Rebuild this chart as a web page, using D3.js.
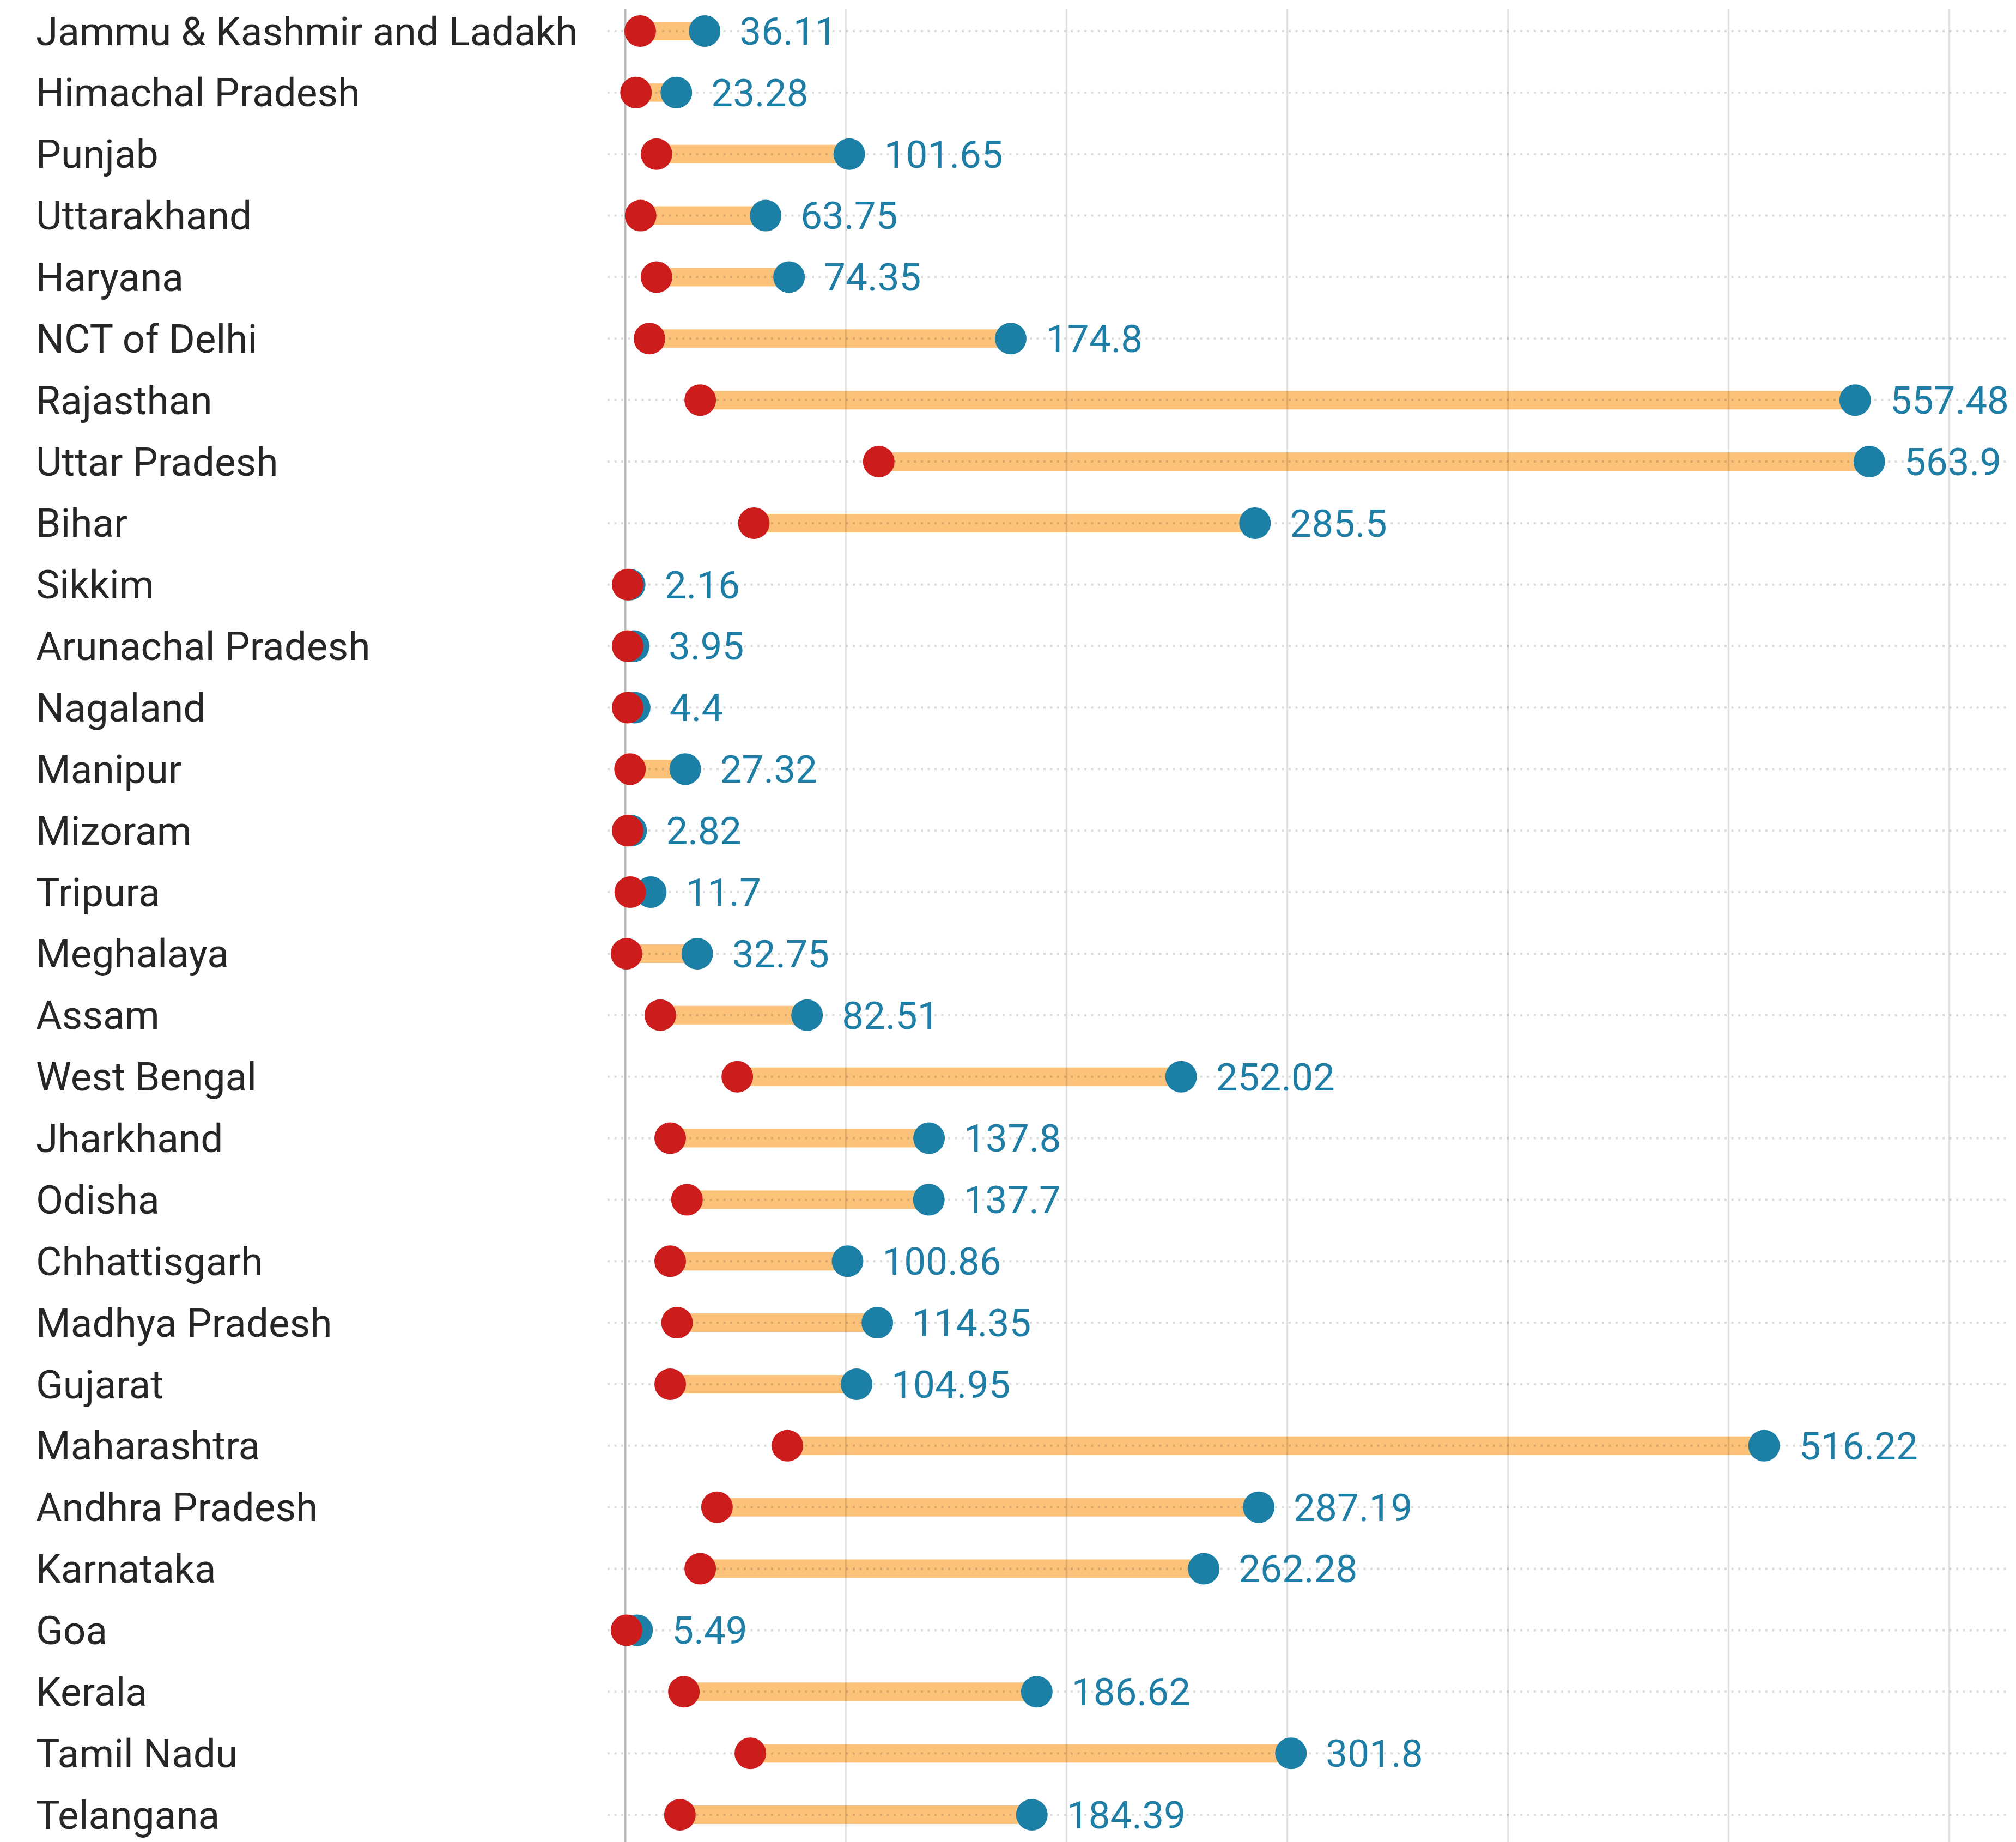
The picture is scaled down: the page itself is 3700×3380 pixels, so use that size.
<!DOCTYPE html>
<html>
<head lang="en">
    <meta charset="UTF-8">
    <title>States dumbbell</title>
    <script src="https://cdnjs.cloudflare.com/ajax/libs/d3/7.8.5/d3.min.js"></script>
    <style>
        body { margin: 0; background: #fff; }
        #chart text { font-family: Roboto, "Noto Sans", sans-serif; }
    </style>
</head>
<body>
<div id="chart"></div>
<script>
    // states, top to bottom
    var states = ["Jammu & Kashmir and Ladakh", "Himachal Pradesh", "Punjab", "Uttarakhand", "Haryana",
        "NCT of Delhi", "Rajasthan", "Uttar Pradesh", "Bihar", "Sikkim", "Arunachal Pradesh", "Nagaland",
        "Manipur", "Mizoram", "Tripura", "Meghalaya", "Assam", "West Bengal", "Jharkhand", "Odisha",
        "Chhattisgarh", "Madhya Pradesh", "Gujarat", "Maharashtra", "Andhra Pradesh", "Karnataka", "Goa",
        "Kerala", "Tamil Nadu", "Telangana"];

    // red dot (start) - no label in the picture, read off the scale
    var startVals = [6.9, 5.0, 14.3, 7.1, 14.3, 11.1, 34.1, 115.0, 58.4, 1.2, 1.2, 1.2, 2.3, 1.2, 2.4, 0.7,
        16.0, 50.9, 20.5, 28.1, 20.5, 23.6, 20.5, 73.6, 41.7, 34.1, 0.7, 26.7, 56.8, 24.9];

    // blue dot (end) - labelled values
    var endVals = [36.11, 23.28, 101.65, 63.75, 74.35, 174.8, 557.48, 563.9, 285.5, 2.16, 3.95, 4.4, 27.32,
        2.82, 11.7, 32.75, 82.51, 252.02, 137.8, 137.7, 100.86, 114.35, 104.95, 516.22, 287.19, 262.28,
        5.49, 186.62, 301.8, 184.39];

    var gridTicks = [0, 100, 200, 300, 400, 500, 600];

    var W = 3700, H = 3380;
    var svg = d3.select("#chart").append("svg").attr("width", W).attr("height", H);

    var x = d3.scaleLinear().domain([0, 600]).range([1147, 3577]);
    var y = d3.scalePoint().domain(states).range([57, 3330]);

    var rows = states.map(function (s, i) {
        return {name: s, a: startVals[i], b: endVals[i]};
    });

    // connecting bars
    svg.append("g").selectAll("line").data(rows).enter().append("line")
        .attr("x1", function (d) { return x(d.a); })
        .attr("x2", function (d) { return x(d.b); })
        .attr("y1", function (d) { return y(d.name); })
        .attr("y2", function (d) { return y(d.name); })
        .attr("stroke", "#fcc27a")
        .attr("stroke-width", 34);

    // vertical grid
    var grid = svg.append("g").attr("transform", "translate(0," + H + ")")
        .call(d3.axisTop(x).tickValues(gridTicks).tickSize(H - 16).tickFormat(""));
    grid.select(".domain").remove();
    grid.selectAll(".tick line")
        .attr("stroke", function (d) { return d === 0 ? "rgba(0,0,0,0.27)" : "rgba(0,0,0,0.11)"; })
        .attr("stroke-width", function (d) { return d === 0 ? 4 : 3.5; });

    // dotted row lines
    svg.append("g").selectAll("line").data(rows).enter().append("line")
        .attr("x1", 1115).attr("x2", 3685)
        .attr("y1", function (d) { return y(d.name); })
        .attr("y2", function (d) { return y(d.name); })
        .attr("stroke", "rgba(0,0,0,0.14)")
        .attr("stroke-width", 4)
        .attr("stroke-dasharray", "4 8.5");

    // end dots
    svg.append("g").selectAll("circle").data(rows).enter().append("circle")
        .attr("cx", function (d) { return x(d.b); })
        .attr("cy", function (d) { return y(d.name); })
        .attr("r", 29)
        .attr("fill", "#1b7fa6");

    // start dots
    svg.append("g").selectAll("circle").data(rows).enter().append("circle")
        .attr("cx", function (d) { return x(d.a); })
        .attr("cy", function (d) { return y(d.name); })
        .attr("r", 29)
        .attr("fill", "#cc1c1c");

    // value labels
    svg.append("g").selectAll("text").data(rows).enter().append("text")
        .attr("x", function (d) { return x(d.b) + 64; })
        .attr("y", function (d) { return y(d.name); })
        .attr("dy", "0.35em")
        .attr("font-size", 71)
        .attr("fill", "#1f7ea6")
        .text(function (d) { return d.b; });

    // state labels
    svg.append("g").selectAll("text").data(rows).enter().append("text")
        .attr("x", 66)
        .attr("y", function (d) { return y(d.name); })
        .attr("dy", "0.35em")
        .attr("font-size", 73)
        .attr("fill", "#262626")
        .text(function (d) { return d.name; });
</script>
</body>
</html>
